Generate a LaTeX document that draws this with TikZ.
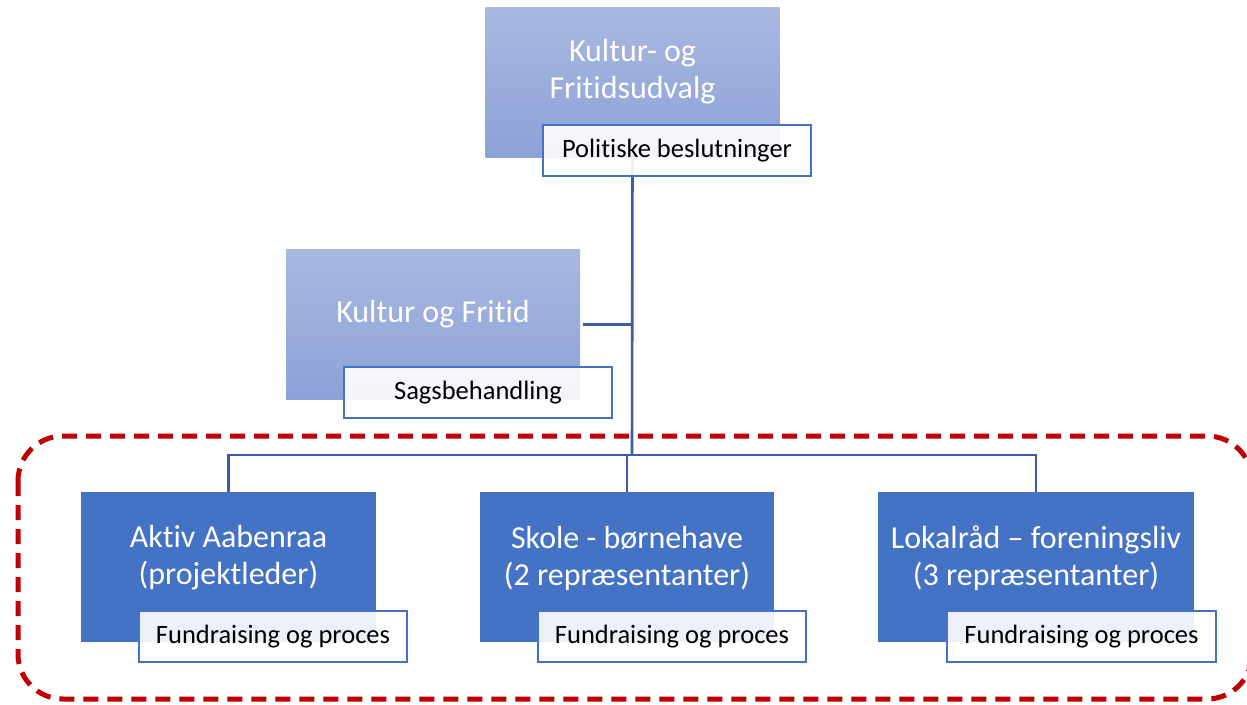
\documentclass[tikz,border=0pt]{standalone}
\usepackage{fontspec}
\setmainfont{Carlito}[Ligatures=NoCommon]

\definecolor{unitblue}{HTML}{4472C4}
\definecolor{lineblue}{HTML}{3B5CA6}
\definecolor{topfill}{HTML}{A9B8E0}
\definecolor{botfill}{HTML}{8DA2D8}
\definecolor{framered}{HTML}{C00000}

\begin{document}
\begin{tikzpicture}[x=1pt,y=-1pt,
    council/.style={minimum width=294pt, minimum height=150pt, inner sep=0pt, top color=topfill, bottom color=botfill},
    unit/.style={minimum width=295pt, minimum height=150pt, inner sep=0pt, fill=unitblue},
    boxtext/.style={text=white, align=center, font=\fontsize{32}{37}\selectfont},
    rolebox/.style={draw=unitblue, line width=2.4pt, fill=white, fill opacity=0.9, text opacity=1, minimum width=268pt, minimum height=51pt, inner sep=0pt, font=\fontsize{26.5}{30}\selectfont},
    connector/.style={draw=lineblue, line width=2.6pt},
    groupframe/.style={draw=framered, line width=5pt, dash pattern=on 15pt off 9pt, rounded corners=45pt}]

    \clip (0,0) rectangle (1247,704);

    % dashed group
    \draw[groupframe] (18,436) rectangle (1252,699);

    % boxes
    \node[council] (udvalg) at (632.5,82) {};
    \node[council] (kultur) at (433,324.5) {};
    \node[unit] (aktiv) at (228.5,567) {};
    \node[unit, minimum width=294pt] (skole) at (627,567) {};
    \node[unit, minimum width=316pt] (lokal) at (1036,567) {};

    \node[boxtext] (udvalg-txt) at ([yshift=10pt]udvalg.center) {Kultur- og\\Fritidsudvalg};
    \node[boxtext] (kultur-txt) at ([yshift=10pt]kultur.center) {Kultur og Fritid};
    \node[boxtext] (aktiv-txt) at ([yshift=9pt]aktiv.center) {Aktiv Aabenraa\\(projektleder)};
    \node[boxtext] (skole-txt) at ([yshift=9pt]skole.center) {Skole - børnehave\\(2 repræsentanter)};
    \node[boxtext] (lokal-txt) at ([yshift=9pt]lokal.center) {Lokalråd – foreningsliv\\(3 repræsentanter)};

    % connectors
    \coordinate (hub) at (632,455);
    \draw[connector] (udvalg.south) -- (hub);
    \draw[connector] ([xshift=3pt]kultur.east) -- (kultur.east -| hub);
    \draw[connector] (aktiv.north) |- (hub) -| (lokal.north);
    \draw[connector] (skole.north) -- (skole.north |- hub);

    % roles
    \node[rolebox] (udvalg-role) at (677,150.5) {Politiske beslutninger};
    \node[rolebox] (kultur-role) at (478,392.5) {Sagsbehandling};
    \node[rolebox] (aktiv-role) at (273,636.5) {Fundraising og proces};
    \node[rolebox] (skole-role) at (672,636.5) {Fundraising og proces};
    \node[rolebox, minimum width=269pt] (lokal-role) at (1081.5,636.5) {Fundraising og proces};
    %
\end{tikzpicture}
\end{document}
